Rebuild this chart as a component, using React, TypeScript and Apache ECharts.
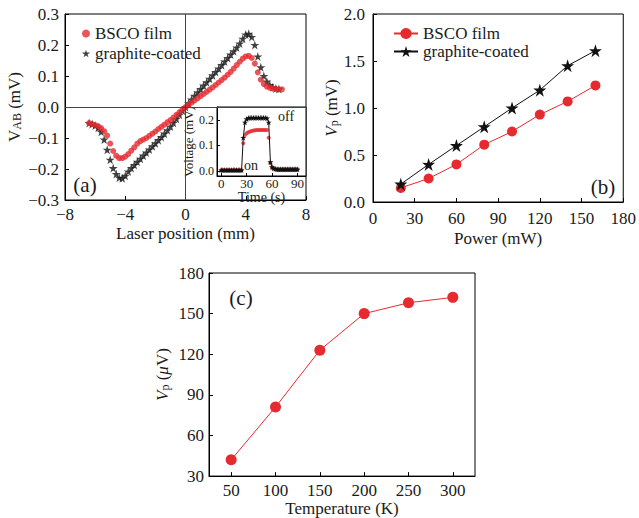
import React, { useEffect, useRef } from 'react';
import * as echarts from 'echarts';

// ---------- Data ----------
// (a) laser position scan
const posX = [-6.4, -6.2, -6.0, -5.8, -5.6, -5.4, -5.2, -5.0, -4.8, -4.6, -4.4, -4.2, -4.0, -3.8, -3.6, -3.4, -3.2, -3.0, -2.8, -2.6, -2.4, -2.2, -2.0, -1.8, -1.6, -1.4, -1.2, -1.0, -0.8, -0.6, -0.4, -0.2, 0, 0.2, 0.4, 0.6, 0.8, 1.0, 1.2, 1.4, 1.6, 1.8, 2.0, 2.2, 2.4, 2.6, 2.8, 3.0, 3.2, 3.4, 3.6, 3.8, 4.0, 4.2, 4.4, 4.6, 4.8, 5.0, 5.2, 5.4, 5.6, 5.8, 6.0, 6.2, 6.4];
const bscoScan = [-0.052, -0.055, -0.058, -0.062, -0.068, -0.078, -0.092, -0.118, -0.142, -0.157,
  -0.165, -0.165, -0.160, -0.152, -0.141, -0.130, -0.118, -0.110, -0.105, -0.100,
  -0.093, -0.086, -0.079, -0.071, -0.064, -0.057, -0.049, -0.042, -0.034, -0.025,
  -0.017, -0.008, 0, 0.007, 0.014, 0.021, 0.028, 0.035, 0.042, 0.049,
  0.056, 0.063, 0.071, 0.079, 0.087, 0.095, 0.104, 0.113, 0.124, 0.135,
  0.146, 0.156, 0.163, 0.165, 0.158, 0.140, 0.112, 0.088, 0.074, 0.066,
  0.062, 0.059, 0.058, 0.057, 0.057];
const graphiteScan = [-0.052, -0.055, -0.060, -0.067, -0.080, -0.105, -0.138, -0.170, -0.197, -0.216,
  -0.228, -0.230, -0.222, -0.208, -0.197, -0.187, -0.177, -0.167, -0.157, -0.147,
  -0.137, -0.127, -0.117, -0.107, -0.097, -0.086, -0.075, -0.063, -0.051, -0.038,
  -0.025, -0.012, 0, 0.012, 0.024, 0.036, 0.047, 0.058, 0.069, 0.080,
  0.091, 0.102, 0.113, 0.124, 0.135, 0.147, 0.158, 0.169, 0.180, 0.192,
  0.205, 0.220, 0.234, 0.236, 0.226, 0.200, 0.163, 0.128, 0.100, 0.082,
  0.071, 0.064, 0.060, 0.058];

// (a) inset: time response
const timeS = [0, 2, 4, 6, 8, 10, 12, 14, 16, 18, 20, 22, 24, 26, 28, 30, 32, 34, 36, 38, 40, 42, 44, 46, 48, 50, 52, 54, 56, 58, 60, 62, 64, 66, 68, 70, 72, 74, 76, 78, 80, 82, 84, 86, 88, 90];
const bscoTime = [0.003, 0.003, 0.003, 0.003, 0.003, 0.003, 0.003, 0.003, 0.003, 0.003, 0.003, 0.003, 0.003,
  0.108, 0.14, 0.147, 0.151, 0.154, 0.156, 0.158, 0.159, 0.16, 0.16, 0.16, 0.16, 0.16, 0.16, 0.16,
  0.13, 0.03, 0.012, 0.008,
  0.006, 0.006, 0.006, 0.006, 0.006, 0.006, 0.006, 0.006, 0.006, 0.006, 0.006, 0.006, 0.006, 0.006];
const graphiteTime = [0.003, 0.003, 0.003, 0.003, 0.003, 0.003, 0.003, 0.003, 0.003, 0.003, 0.003, 0.003, 0.003,
  0.13, 0.19, 0.203, 0.207, 0.208, 0.208, 0.208, 0.208, 0.208, 0.208, 0.208, 0.208, 0.208, 0.208,
  0.206, 0.19, 0.035, 0.015, 0.01, 0.008,
  0.006, 0.006, 0.006, 0.006, 0.006, 0.006, 0.006, 0.006, 0.006, 0.006, 0.006, 0.006, 0.006];

// (b) power dependence
const powerMW = [20, 40, 60, 80, 100, 120, 140, 160];
const bscoPower = [0.15, 0.25, 0.4, 0.61, 0.75, 0.93, 1.07, 1.24];
const graphitePower = [0.19, 0.4, 0.6, 0.8, 1.0, 1.19, 1.45, 1.61];

// (c) temperature dependence
const tempK = [50, 100, 150, 200, 250, 300];
const vpTemp = [42, 81, 123, 150, 158, 162];

const tempTicks = [50, 100, 150, 200, 250, 300];
const insetTimeTicks = [0, 30, 60, 90];
const insetVoltTicks = [0, 0.1, 0.2];

const legendNames: Record<string, string> = {
  'a-BSCO': 'BSCO film',
  'a-graphite': 'graphite-coated',
  'b-BSCO': 'BSCO film',
  'b-graphite': 'graphite-coated',
};

// ---------- Styles ----------
const FONT = '"Liberation Serif", serif';
const RED = '#e52a30';
const BLACK = '#111111';
const TXT = '#1a1a1a';
const STAR = 'path://M50 0 L61.17 34.63 L97.55 34.55 L68.07 55.87 L79.39 90.45 L50 69 L20.61 90.45 L31.93 55.87 L2.45 34.55 L38.83 34.63 Z';

const zip = (xs: number[], ys: number[]) => ys.map((y, i) => [xs[i], y]);
const minus = (s: string) => s.replace('-', '\u2212');
const fmt1 = (v: number) => (Math.abs(v) < 1e-9 ? '0.0' : minus(v.toFixed(1)));

function axisBase(gridIndex: number, fontSize: number, margin: number) {
  return {
    gridIndex,
    type: 'value' as const,
    splitLine: { show: false },
    axisLine: { show: true, onZero: false, lineStyle: { color: '#000', width: 1 } },
    axisTick: { show: true, inside: true, length: 4, lineStyle: { color: '#000', width: 1 } },
    axisLabel: { color: TXT, fontFamily: FONT, fontSize, margin },
    nameTextStyle: { color: TXT, fontFamily: FONT, fontSize },
  };
}

const richY = (size: number) => ({
  v: { fontFamily: FONT, fontSize: size, color: TXT, verticalAlign: 'bottom' as const },
  vi: { fontFamily: FONT, fontSize: size, fontStyle: 'italic' as const, color: TXT, verticalAlign: 'bottom' as const },
  sub: { fontFamily: FONT, fontSize: 12, color: TXT, verticalAlign: 'bottom' as const, padding: [7, 0, 0, 0] },
  t: { fontFamily: FONT, fontSize: size, color: TXT, verticalAlign: 'bottom' as const },
});

export default function App() {
  const ref = useRef<HTMLDivElement>(null);

  useEffect(() => {
    document.body.style.margin = '0';
    if (!ref.current) return;
    const chart = echarts.init(ref.current, undefined, { renderer: 'svg' });

    const gridStyle = { show: true, borderColor: '#000', borderWidth: 1, containLabel: false };
    const T = 17;

    const option: any = {
      animation: false,
      backgroundColor: '#fff',
      textStyle: { fontFamily: FONT },
      grid: [
        { ...gridStyle, left: 65, top: 14, width: 241, height: 186 },
        { ...gridStyle, left: 217, top: 107, width: 89, height: 69, backgroundColor: '#fff' },
        { ...gridStyle, left: 373, top: 14, width: 253, height: 188 },
        { ...gridStyle, left: 209, top: 273, width: 266, height: 206 },
      ],
      xAxis: [
        {
          ...axisBase(0, T, 6),
          min: -8, max: 8, interval: 4,
          axisLabel: { ...axisBase(0, T, 6).axisLabel, formatter: (v: number) => minus(String(v)) },
          name: 'Laser position (mm)', nameLocation: 'middle', nameGap: 25,
        },
        {
          ...axisBase(1, 13, 1),
          min: -5, max: 100,
          axisTick: { ...axisBase(1, 13, 1).axisTick, length: 3, customValues: insetTimeTicks },
          axisLabel: { ...axisBase(1, 13, 1).axisLabel, customValues: insetTimeTicks },
          name: 'Time (s)', nameLocation: 'middle', nameGap: 10,
          nameTextStyle: { color: TXT, fontFamily: FONT, fontSize: 14 },
        },
        {
          ...axisBase(2, T, 8),
          min: 0, max: 180, interval: 30,
          name: 'Power (mW)', nameLocation: 'middle', nameGap: 28,
        },
        {
          ...axisBase(3, T, 6),
          min: 25, max: 325,
          axisTick: { ...axisBase(3, T, 6).axisTick, customValues: tempTicks },
          axisLabel: { ...axisBase(3, T, 6).axisLabel, customValues: tempTicks },
          name: 'Temperature (K)', nameLocation: 'middle', nameGap: 21,
        },
      ],
      yAxis: [
        {
          ...axisBase(0, T, 6),
          min: -0.3, max: 0.3, interval: 0.1,
          axisLabel: { ...axisBase(0, T, 6).axisLabel, formatter: fmt1 },
          name: '{v|V}{sub|AB}{t| (mV)}', nameLocation: 'middle', nameGap: 42,
          nameTextStyle: { color: TXT, fontFamily: FONT, fontSize: 17, rich: richY(17) },
        },
        {
          ...axisBase(1, 12, 3),
          min: -0.02, max: 0.25,
          axisTick: { ...axisBase(1, 12, 3).axisTick, length: 3, customValues: insetVoltTicks },
          axisLabel: { ...axisBase(1, 12, 3).axisLabel, customValues: insetVoltTicks, formatter: fmt1 },
          name: 'Voltage (mV)', nameLocation: 'middle', nameGap: 22,
          nameTextStyle: { color: TXT, fontFamily: FONT, fontSize: 13 },
        },
        {
          ...axisBase(2, T, 8),
          min: 0, max: 2, interval: 0.5,
          axisLabel: { ...axisBase(2, T, 8).axisLabel, formatter: fmt1 },
          name: '{vi|V}{sub|p}{t| (mV)}', nameLocation: 'middle', nameGap: 33,
          nameTextStyle: { color: TXT, fontFamily: FONT, fontSize: 17, rich: richY(17) },
        },
        {
          ...axisBase(3, T, 5),
          min: 30, max: 180, interval: 30,
          name: '{vi|V}{sub|p}{t| (}{vi|μ}{t|V)}', nameLocation: 'middle', nameGap: 38,
          nameTextStyle: { color: TXT, fontFamily: FONT, fontSize: 17, rich: richY(17) },
        },
      ],
      legend: [
        {
          data: ['a-BSCO', 'a-graphite'],
          left: 77, top: 20, orient: 'vertical', itemGap: 3, itemWidth: 8, itemHeight: 8,
          selectedMode: false,
          formatter: (n: string) => legendNames[n] ?? n,
          textStyle: { color: TXT, fontFamily: FONT, fontSize: 17 },
        },
        {
          data: ['b-BSCO', 'b-graphite'],
          left: 388, top: 20, orient: 'vertical', itemGap: 1, itemWidth: 24, itemHeight: 14,
          selectedMode: false,
          formatter: (n: string) => legendNames[n] ?? n,
          textStyle: { color: TXT, fontFamily: FONT, fontSize: 17 },
        },
      ],
      series: [
        {
          name: 'a-graphite', type: 'scatter', xAxisIndex: 0, yAxisIndex: 0,
          symbol: STAR, symbolSize: 9, itemStyle: { color: BLACK },
          data: zip(posX, graphiteScan),
          markLine: {
            silent: true, symbol: 'none', animation: false,
            label: { show: false },
            lineStyle: { color: '#444', width: 1, type: 'solid' },
            data: [{ xAxis: 0 }, { yAxis: 0 }],
          },
        },
        {
          name: 'a-BSCO', type: 'scatter', xAxisIndex: 0, yAxisIndex: 0,
          symbol: 'circle', symbolSize: 6, itemStyle: { color: RED },
          data: zip(posX, bscoScan),
        },
        {
          name: 'i-graphite', type: 'line', xAxisIndex: 1, yAxisIndex: 1,
          symbol: STAR, symbolSize: 6, showAllSymbol: true,
          itemStyle: { color: BLACK }, lineStyle: { color: BLACK, width: 1 },
          data: zip(timeS, graphiteTime),
        },
        {
          name: 'i-BSCO', type: 'scatter', xAxisIndex: 1, yAxisIndex: 1,
          symbol: 'circle', symbolSize: 4, itemStyle: { color: RED },
          data: zip(timeS, bscoTime),
        },
        {
          name: 'b-BSCO', type: 'line', xAxisIndex: 2, yAxisIndex: 2,
          symbol: 'circle', symbolSize: 10, itemStyle: { color: RED }, lineStyle: { color: RED, width: 1 },
          data: zip(powerMW, bscoPower),
        },
        {
          name: 'b-graphite', type: 'line', xAxisIndex: 2, yAxisIndex: 2,
          symbol: STAR, symbolSize: 13, itemStyle: { color: BLACK }, lineStyle: { color: BLACK, width: 1 },
          data: zip(powerMW, graphitePower),
        },
        {
          name: 'c-BSCO', type: 'line', xAxisIndex: 3, yAxisIndex: 3,
          symbol: 'circle', symbolSize: 11, itemStyle: { color: RED }, lineStyle: { color: RED, width: 1 },
          data: zip(tempK, vpTemp),
        },
      ],
      graphic: [
        { type: 'text', x: 85, y: 185, style: { text: '(a)', font: `21px ${FONT}`, fill: TXT, textAlign: 'center', textVerticalAlign: 'middle' } },
        { type: 'text', x: 603, y: 187, style: { text: '(b)', font: `21px ${FONT}`, fill: TXT, textAlign: 'center', textVerticalAlign: 'middle' } },
        { type: 'text', x: 241, y: 298, style: { text: '(c)', font: `21px ${FONT}`, fill: TXT, textAlign: 'center', textVerticalAlign: 'middle' } },
        { type: 'text', x: 251, y: 165, z: 10, style: { text: 'on', font: `14px ${FONT}`, fill: TXT, textAlign: 'center', textVerticalAlign: 'middle' } },
        { type: 'text', x: 286, y: 116, z: 10, style: { text: 'off', font: `14px ${FONT}`, fill: TXT, textAlign: 'center', textVerticalAlign: 'middle' } },
      ],
    };

    chart.setOption(option);
    return () => chart.dispose();
  }, []);

  return <div ref={ref} style={{ width: 639, height: 518 }} />;
}
